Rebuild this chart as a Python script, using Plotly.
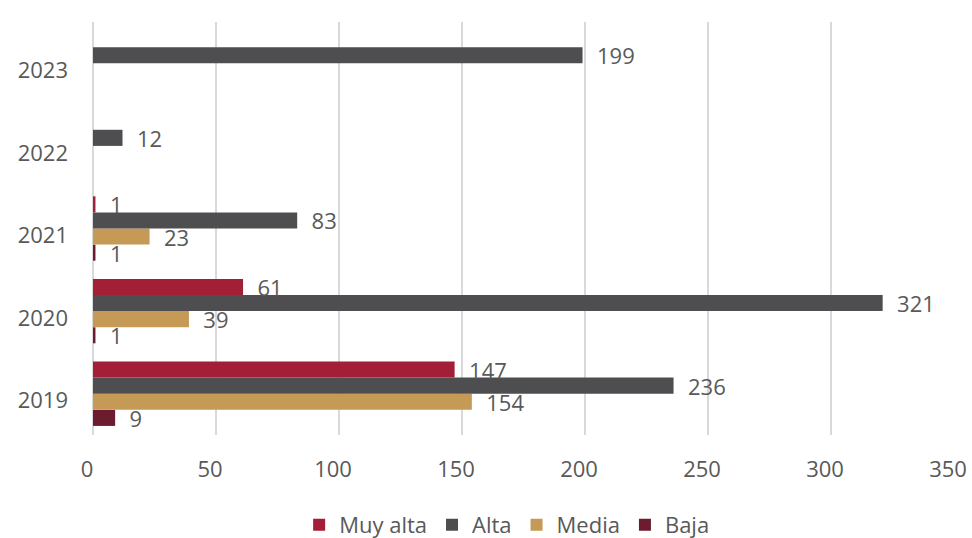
import plotly.graph_objects as go

years = ["2019", "2020", "2021", "2022", "2023"]
series_names = ["Muy alta", "Alta", "Media", "Baja"]
muy_alta = [147, 61, 1, None, None]
alta = [236, 321, 83, 12, 199]
media = [154, 39, 23, None, None]
baja = [9, 1, 1, None, None]
x_ticks = [0, 50, 100, 150, 200, 250, 300, 350]

colors = {"Muy alta": "#A31F37", "Alta": "#4E4D50", "Media": "#C49A56", "Baja": "#6D1B2E"}
values = {"Muy alta": muy_alta, "Alta": alta, "Media": media, "Baja": baja}

fig = go.Figure()
# plotly draws horizontal groups from bottom to top, so add in reverse order
for rank, name in reversed(list(enumerate(series_names))):
    vals = values[name]
    fig.add_trace(go.Bar(
        y=years, x=vals, name=name, orientation="h",
        marker=dict(color=colors[name], line=dict(width=0)),
        text=["\u00a0\u00a0" + str(v) if v is not None else "" for v in vals],
        textposition="outside", cliponaxis=False,
        textfont=dict(size=22, color="#595959"),
        legendrank=rank + 1,
    ))

fig.update_layout(
    width=972, height=538,
    margin=dict(l=93, r=18, t=22, b=103, autoexpand=False),
    paper_bgcolor="white", plot_bgcolor="white",
    barmode="group", bargap=0.22, bargroupgap=0,
    font=dict(family="Open Sans, Noto Sans, sans-serif", color="#595959", size=22),
    showlegend=True,
    legend=dict(orientation="h", x=0.481, xanchor="center", y=-0.218, yanchor="middle",
                font=dict(size=22, color="#595959"), itemwidth=30, traceorder="normal"),
    uniformtext=dict(minsize=22, mode="show"),
)
fig.update_xaxes(range=[0, 350], tickvals=x_ticks, showgrid=True, gridcolor="#D9D9D9",
                 gridwidth=2, zeroline=True, zerolinecolor="#D9D9D9", zerolinewidth=2,
                 showline=False, ticklabelstandoff=19, ticklabelshift=-6, automargin=False,
                 tickfont=dict(size=22, color="#595959"))
fig.update_yaxes(type="category", categoryorder="array", categoryarray=years,
                 showgrid=False, showline=False, ticklabelstandoff=24, ticklabelshift=7,
                 automargin=False, tickfont=dict(size=22, color="#595959"))

fig.write_html("out.html", config={"displayModeBar": False},
               post_script="document.body.style.margin='0';document.body.style.overflow='hidden';")
